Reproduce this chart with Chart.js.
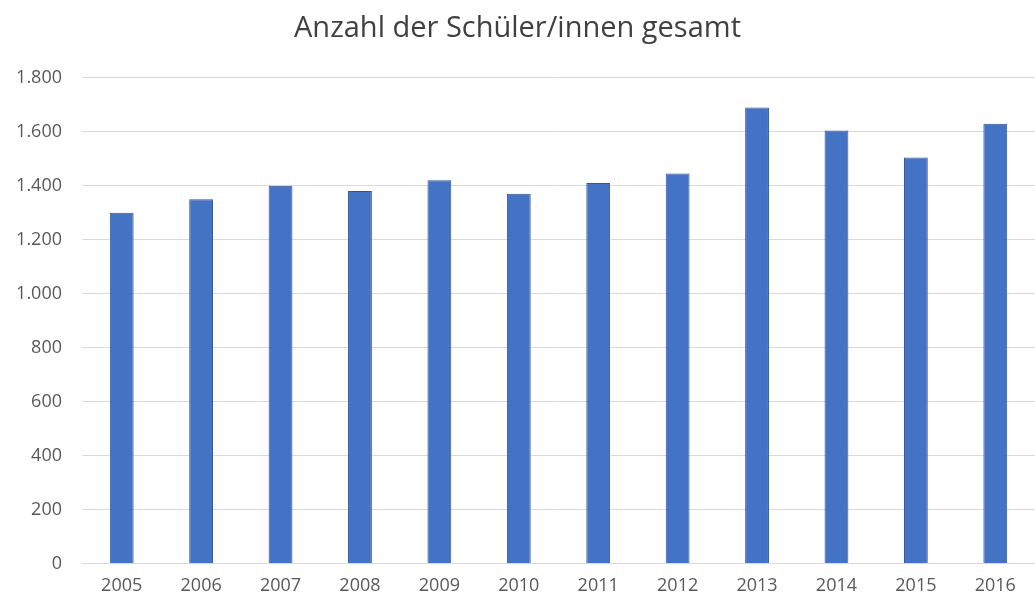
<!DOCTYPE html>
<html>
<head>
<meta charset="utf-8">
<script src="https://cdn.jsdelivr.net/npm/chart.js@4.4.1/dist/chart.umd.min.js"></script>
<style>
  html, body { margin: 0; padding: 0; background: #fff; }
  #wrap { width: 1035px; height: 612px; }
</style>
</head>
<body>
<div id="wrap"><canvas id="chart" width="1035" height="612"></canvas></div>
<script>
var jahre = ["2005", "2006", "2007", "2008", "2009", "2010", "2011", "2012", "2013", "2014", "2015", "2016"];
var schueler = [1300, 1350, 1400, 1380, 1420, 1370, 1410, 1445, 1690, 1605, 1505, 1630];
var titel = "Anzahl der Schüler/innen gesamt";

function punkt(v) {
  return String(v).replace(/\B(?=(\d{3})+(?!\d))/g, ".");
}

var ctx = document.getElementById('chart').getContext('2d');
var chart = new Chart(ctx, {
  type: "bar",
  data: {
    labels: jahre,
    datasets: [{
      data: schueler,
      backgroundColor: "#4472C4",
      borderColor: "#2F5597",
      borderWidth: 1,
      barPercentage: 0.3,
      categoryPercentage: 1.0
    }]
  },
  options: {
    responsive: false,
    animation: false,
    layout: { padding: { top: 5, right: 0, left: 0, bottom: 11 } },
    plugins: {
      legend: { display: false },
      tooltip: { enabled: false },
      title: {
        display: true,
        text: titel,
        color: "#404040",
        font: { family: "'Open Sans', sans-serif", size: 29, weight: "normal" },
        padding: { top: 6, bottom: 32 }
      }
    },
    scales: {
      x: {
        grid: { display: false },
        border: { color: "#d9d9d9", width: 1 },
        ticks: { color: "#595959", font: { family: "'Open Sans', sans-serif", size: 18 }, padding: 4 }
      },
      y: {
        min: 0,
        max: 1800,
        ticks: {
          stepSize: 200,
          color: "#595959",
          font: { family: "'Open Sans', sans-serif", size: 18 },
          padding: 20,
          callback: function(v) { return punkt(v); }
        },
        grid: { color: "#d9d9d9", lineWidth: 1, drawTicks: false },
        border: { display: false },
        afterFit: function(s) { s.width = 82; }
      }
    }
  }
});
</script>
</body>
</html>
